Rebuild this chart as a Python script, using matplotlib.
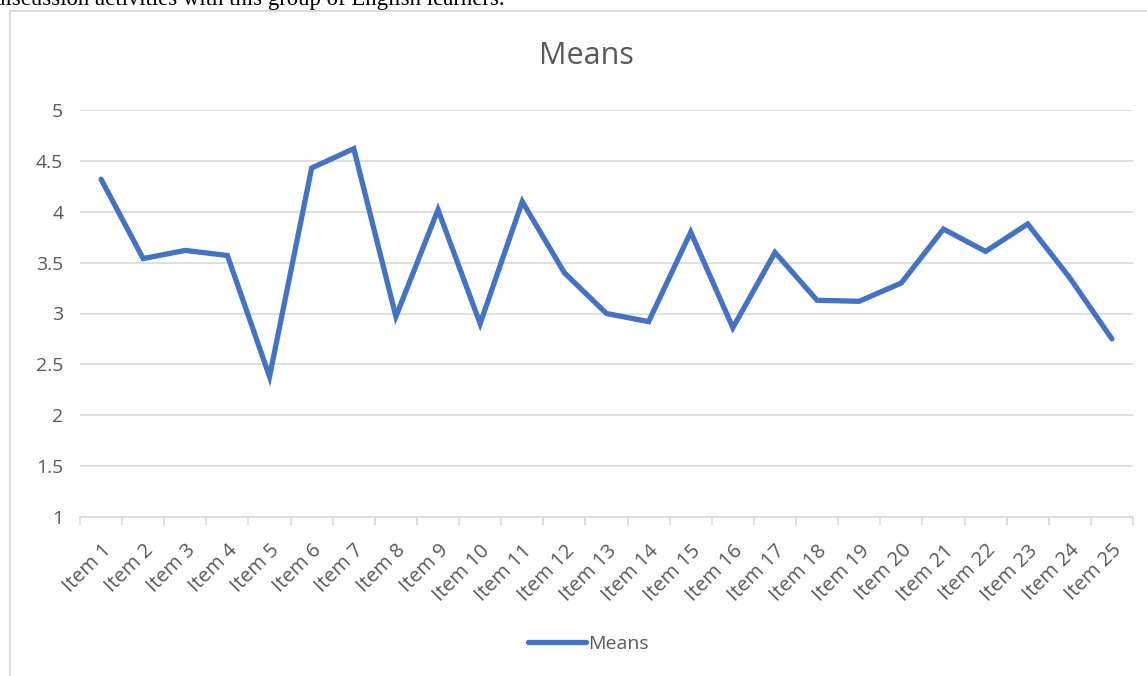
import matplotlib
matplotlib.use('Agg')
import matplotlib.pyplot as plt
from matplotlib.lines import Line2D

# datos
items = ['Item %d' % i for i in range(1, 26)]
means = [4.32, 3.54, 3.62, 3.57, 2.38, 4.43, 4.62, 2.97, 4.02, 2.90,
         4.10, 3.40, 3.00, 2.92, 3.80, 2.86, 3.60, 3.13, 3.12, 3.30,
         3.83, 3.61, 3.88, 3.35, 2.75]
y_ticks = [1, 1.5, 2, 2.5, 3, 3.5, 4, 4.5, 5]
y_labels = ['1', '1.5', '2', '2.5', '3', '3.5', '4', '4.5', '5']

plt.rcParams['font.family'] = ['Open Sans', 'DejaVu Sans']
gris = '#595959'
azul = '#4472C4'

fig = plt.figure(figsize=(11.47, 6.76), dpi=100)

# texto cortado arriba (del documento)
fig.text(-0.005, 1 - 5 / 676, 'discussion activities with this group of English learners.',
         family='Liberation Serif', fontsize=16.4, va='baseline', ha='left', color='black')

# borde del area del grafico
W, H = 1147, 676
fig.add_artist(Line2D([10 / W, 10 / W], [0, 1 - 11 / H], color='#D9D9D9', lw=1.3,
                      transform=fig.transFigure))
fig.add_artist(Line2D([10 / W, 1], [1 - 11 / H, 1 - 11 / H], color='#D9D9D9', lw=1.3,
                      transform=fig.transFigure))

ax = fig.add_axes([80 / W, 1 - 517 / H, (1133 - 80) / W, (517 - 110) / H])
x = list(range(len(items)))
ax.plot(x, means, color=azul, lw=3.8, solid_joinstyle='miter', solid_capstyle='round', label='Means')

ax.set_xlim(-0.5, len(items) - 0.5)
ax.set_ylim(1, 5)
ax.set_yticks(y_ticks)
ax.set_yticklabels(y_labels)
ax.yaxis.grid(True, color='#D9D9D9', lw=1.2)
ax.set_axisbelow(True)
for s in ['left', 'right', 'top']:
    ax.spines[s].set_visible(False)
ax.spines['bottom'].set_color('#D9D9D9')
ax.spines['bottom'].set_linewidth(1.2)
ax.tick_params(axis='y', length=0, pad=12, labelsize=14, labelcolor=gris)

ax.set_xticks(x)
ax.set_xticklabels(items, rotation=45, ha='right', rotation_mode='anchor')
ax.tick_params(axis='x', length=0, pad=17, labelsize=14.5, labelcolor=gris)
# marcas entre categorias
ax.set_xticks([i - 0.5 for i in range(len(items) + 1)], minor=True)
ax.tick_params(axis='x', which='minor', length=6, color='#D9D9D9', width=1.2)

fig.text(586 / W, 1 - 56 / H, 'Means', fontsize=22, color=gris, ha='center', va='center')

ax.legend(loc='center', bbox_to_anchor=(588 / W, 1 - 644 / H), bbox_transform=fig.transFigure,
          frameon=False, fontsize=14, labelcolor=gris, handlelength=3.0, handletextpad=0.1)

fig.savefig('out.png', dpi=100)
